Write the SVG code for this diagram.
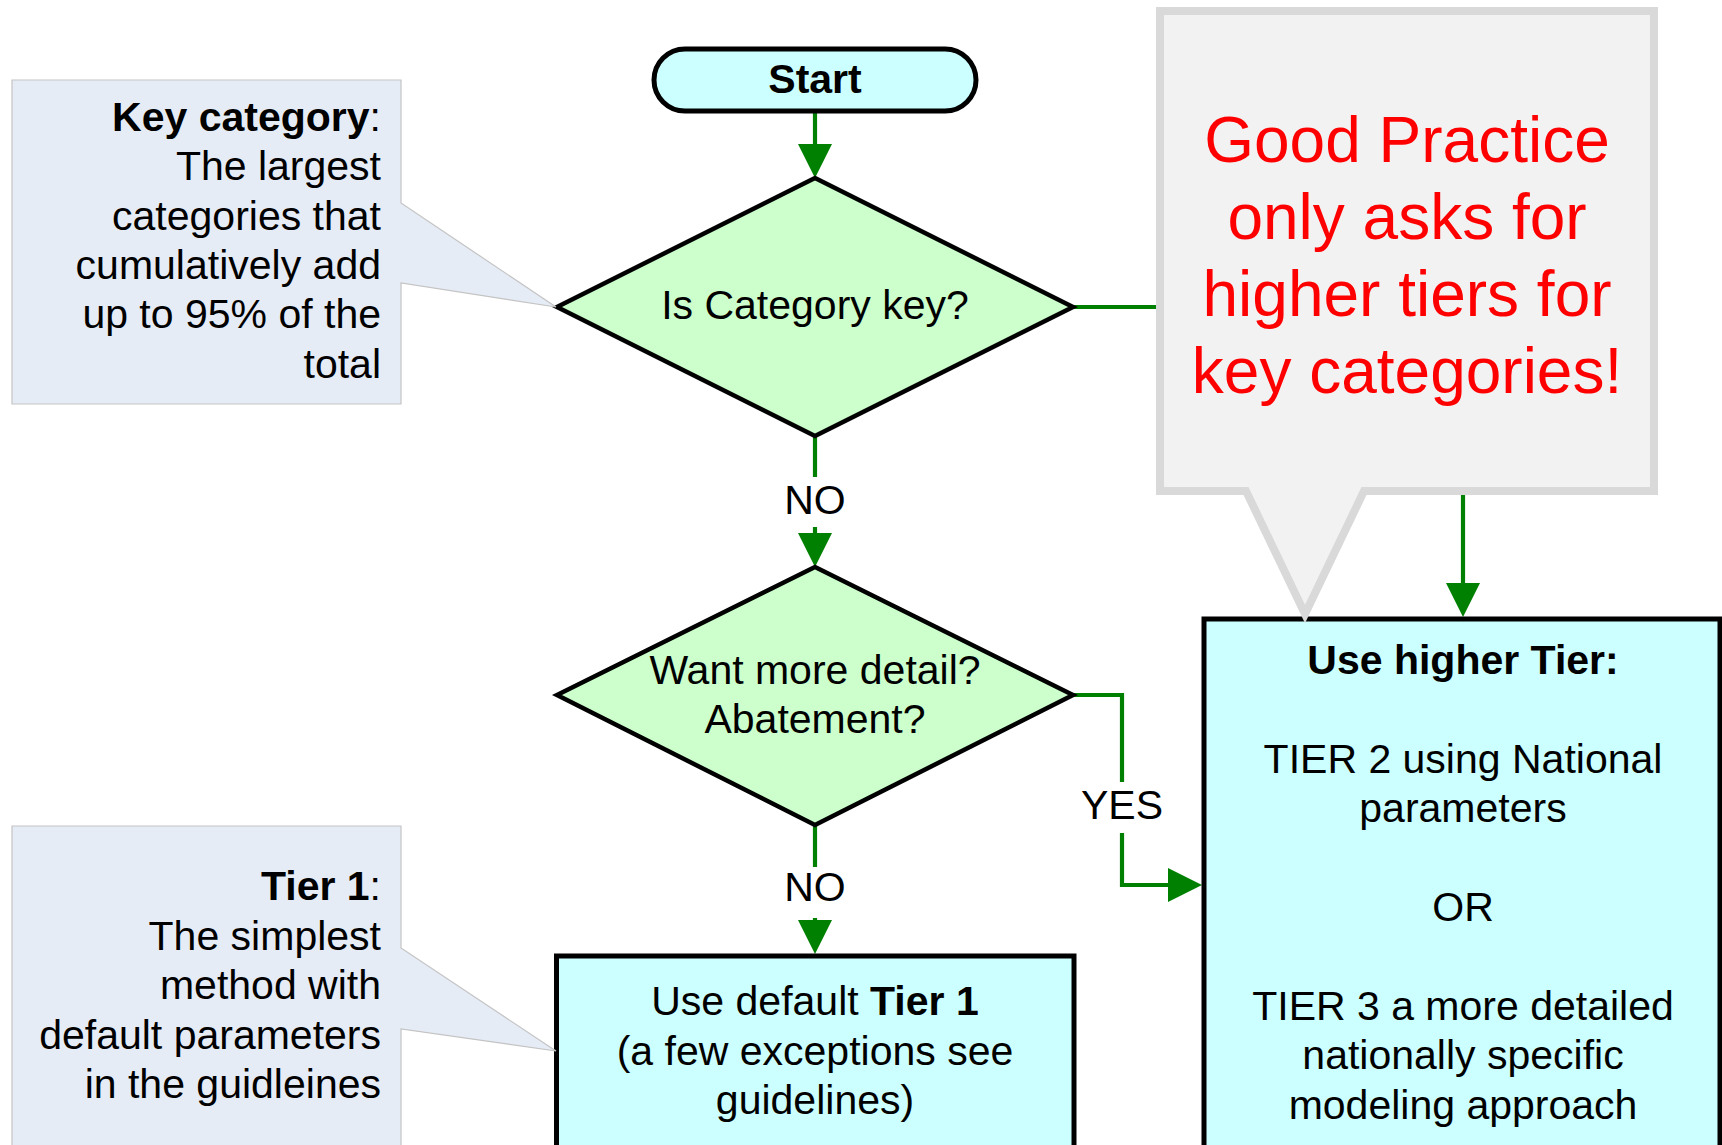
<svg xmlns="http://www.w3.org/2000/svg" width="1722" height="1145" viewBox="0 0 1722 1145">
<style>
.t{font-family:"Liberation Sans",Arial,sans-serif;font-size:41px;fill:#000}
.b{font-weight:bold}
.c{text-anchor:middle}
.r{text-anchor:end}
.red{font-size:64px;fill:#FF0000}
.conn{fill:none;stroke:#008000;stroke-width:4.2;stroke-linejoin:miter;stroke-linecap:butt}
.dia{fill:#CCFFCC;stroke:#000;stroke-width:4.5;stroke-linejoin:miter}
.box{fill:#CCFFFF;stroke:#000;stroke-width:5}
.note{fill:#E6ECF6;stroke:#C3C3C3;stroke-width:1.2}
.gp{fill:#F2F2F2;stroke:#D9D9D9;stroke-width:8;stroke-linejoin:miter;stroke-miterlimit:10}
</style>
<defs>
<marker id="ah" viewBox="0 0 34 34" markerWidth="34" markerHeight="34" markerUnits="userSpaceOnUse" refX="14" refY="17" orient="auto">
<path d="M0,0 L34,17 L0,34 Z" fill="#008000"/>
</marker>
</defs>
<rect width="1722" height="1145" fill="#FFFFFF"/>

<g id="connectors">
<path class="conn" d="M815,113 L815,158" marker-end="url(#ah)"/>
<path class="conn" d="M815,436 L815,477 M815,527 L815,547" marker-end="url(#ah)"/>
<path class="conn" d="M1073,307 L1463,307 L1463,597" marker-end="url(#ah)"/>
<path class="conn" d="M1073,695 L1122,695 L1122,782 M1122,833 L1122,885 L1182,885" marker-end="url(#ah)"/>
<path class="conn" d="M815,825 L815,867 M815,918 L815,934" marker-end="url(#ah)"/>
<text class="t c" x="815" y="514">NO</text>
<text class="t c" x="815" y="901">NO</text>
<text class="t c" x="1122" y="819">YES</text>
</g>

<g id="start">
<rect class="box" x="654" y="49" width="322" height="62" rx="31" ry="31" stroke-width="4.5"/>
<text class="t b c" x="815" y="93">Start</text>
</g>

<g id="decision-key">
<polygon class="dia" points="815,178 1073,307 815,436 557,307"/>
<text class="t c" x="815" y="319">Is Category key?</text>
</g>

<g id="decision-detail">
<polygon class="dia" points="815,567 1073,695 815,825 557,695"/>
<text class="t c" x="815" y="684">Want more detail?</text>
<text class="t c" x="815" y="733">Abatement?</text>
</g>

<g id="tier1-box">
<rect class="box" x="556.5" y="956" width="517.5" height="240"/>
<text class="t c" x="815" y="1015">Use default <tspan class="b">Tier 1</tspan></text>
<text class="t c" x="815" y="1065">(a few exceptions see</text>
<text class="t c" x="815" y="1114">guidelines)</text>
</g>

<g id="higher-tier-box">
<rect class="box" x="1204" y="619" width="516" height="600"/>
<text class="t b c" x="1463" y="674">Use higher Tier:</text>
<text class="t c" x="1463" y="773">TIER 2 using National</text>
<text class="t c" x="1463" y="822">parameters</text>
<text class="t c" x="1463" y="921">OR</text>
<text class="t c" x="1463" y="1020">TIER 3 a more detailed</text>
<text class="t c" x="1463" y="1069">nationally specific</text>
<text class="t c" x="1463" y="1119">modeling approach</text>
</g>

<g id="note-key-category">
<path class="note" d="M12,80 L401,80 L401,203 L556,307 L401,283 L401,404 L12,404 Z"/>
<text class="t r" x="381" y="131"><tspan class="b">Key category</tspan>:</text>
<text class="t r" x="381" y="180">The largest</text>
<text class="t r" x="381" y="230">categories that</text>
<text class="t r" x="381" y="279">cumulatively add</text>
<text class="t r" x="381" y="328">up to 95% of the</text>
<text class="t r" x="381" y="378">total</text>
</g>

<g id="note-tier1">
<path class="note" d="M12,826 L401,826 L401,948 L556,1051 L401,1029 L401,1160 L12,1160 Z"/>
<text class="t r" x="381" y="900"><tspan class="b">Tier 1</tspan>:</text>
<text class="t r" x="381" y="950">The simplest</text>
<text class="t r" x="381" y="999">method with</text>
<text class="t r" x="381" y="1049">default parameters</text>
<text class="t r" x="381" y="1098">in the guidleines</text>
</g>

<g id="good-practice-callout">
<path class="gp" d="M1160,11 L1654,11 L1654,491 L1364,491 L1305,614 L1246,491 L1160,491 Z"/>
<text class="t c red" x="1407" y="162">Good Practice</text>
<text class="t c red" x="1407" y="239">only asks for</text>
<text class="t c red" x="1407" y="316">higher tiers for</text>
<text class="t c red" x="1407" y="393">key categories!</text>
</g>
</svg>
